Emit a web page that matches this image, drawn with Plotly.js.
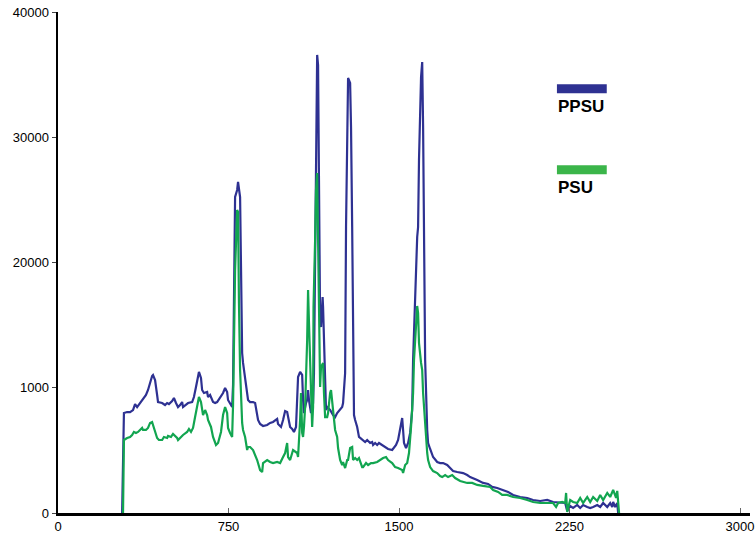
<!DOCTYPE html>
<html>
<head>
<meta charset="utf-8">
<script src="https://cdn.plot.ly/plotly-3.0.1.min.js"></script>
<style>html,body{margin:0;padding:0;background:#fff;}#chart{width:756px;height:535px;}</style>
</head>
<body>
<div id="chart"></div>
<script>
// PPSU series
const ppsuX = [282,290,304,317,330,339,348,361,374,387,396,405,414,418,427,436,440,458,471,480,488,502,510,519,528,537,546,550,563,572,590,598,607,616,620,629,634,642,656,660,669,682,691,700,713,726,735,744,748,761,766,770,779,788,792,801,805,810,814,823,832,836,845,858,867,876,880,889,902,920,933,946,964,968,981,990,999,1008,1012,1021,1030,1038,1047,1056,1065,1074,1078,1082,1091,1096,1100,1104,1113,1122,1126,1131,1135,1140,1144,1148,1153,1157,1164,1166,1175,1179,1184,1197,1210,1219,1228,1232,1241,1250,1254,1258,1263,1267,1272,1276,1285,1289,1294,1298,1302,1307,1316,1324,1338,1351,1360,1373,1382,1386,1395,1404,1412,1426,1439,1452,1470,1478,1487,1496,1505,1514,1518,1522,1531,1540,1549,1558,1562,1571,1580,1584,1588,1597,1602,1606,1610,1615,1624,1628,1637,1650,1668,1681,1694,1712,1725,1738,1756,1782,1800,1813,1844,1870,1892,1910,1932,1958,1980,2002,2033,2064,2090,2121,2152,2178,2209,2231,2240,2253,2266,2284,2297,2310,2328,2341,2354,2372,2385,2398,2416,2429,2438,2442,2451,2460,2464];
const ppsuY = [0,7980,8060,8060,8220,8700,8460,8780,9020,9420,9820,10460,10940,11020,10620,9420,8860,8780,8620,8780,8700,8940,9180,8780,8460,8620,8860,8460,8620,8780,8860,9260,10060,10860,11260,10780,9820,9580,9660,9260,9420,8860,8780,8860,9180,9580,9980,9660,9020,8620,8460,10220,25230,25790,26430,25230,19400,12770,11980,10860,9820,9020,8860,8860,8780,7980,7430,7110,6950,7030,7190,7270,7510,7110,6870,7430,8140,8060,7660,6870,6710,6470,6870,10860,11260,11020,9020,7980,8780,9020,9820,9020,7980,8780,11180,19160,27150,36570,35770,27150,15170,14850,17250,16450,11180,8220,8460,8220,7820,7660,7980,8060,8220,8460,8780,9820,11180,22830,30820,34730,34330,30820,22830,10620,7820,7430,6870,6070,5830,5670,5830,5590,5670,5430,5590,5430,5590,5430,5270,5110,5030,5190,5430,5830,6630,7580,6630,5590,5190,5590,6390,8220,12220,17560,22040,22830,28180,34810,36010,30820,20200,12220,6630,5590,5110,4470,4070,3990,3990,3830,3590,3350,3270,3190,3030,2870,2630,2400,2320,2080,2000,1840,1680,1440,1280,1200,1040,960,1040,880,800,800,160,560,400,640,400,640,480,400,480,640,480,800,480,800,480,880,480,800,0];

// PSU series
const psuX = [286,290,304,317,326,334,343,352,370,374,387,396,405,414,418,427,436,444,458,466,480,484,497,506,515,524,528,541,550,568,576,585,594,603,612,620,629,638,647,656,660,673,682,695,704,717,726,735,744,748,757,766,770,779,788,792,796,801,810,814,823,832,836,845,858,876,889,898,902,920,933,946,964,977,990,999,1008,1012,1021,1034,1052,1056,1065,1069,1074,1078,1082,1087,1096,1100,1104,1113,1118,1122,1124,1131,1135,1140,1144,1148,1153,1157,1166,1170,1175,1184,1188,1197,1201,1210,1219,1228,1232,1241,1250,1254,1263,1272,1276,1285,1294,1298,1307,1316,1324,1338,1342,1355,1364,1377,1386,1404,1417,1430,1443,1452,1470,1483,1496,1514,1518,1527,1536,1544,1553,1562,1566,1575,1580,1584,1588,1597,1602,1606,1615,1624,1628,1637,1650,1668,1681,1690,1703,1716,1734,1747,1769,1800,1822,1844,1870,1901,1914,1936,1954,1976,2002,2033,2064,2090,2121,2152,2178,2191,2200,2218,2231,2235,2240,2244,2253,2266,2284,2297,2310,2328,2341,2354,2372,2385,2398,2416,2429,2442,2455,2460,2468];
const psuY = [0,5830,5990,6070,6230,6470,6390,6470,6790,6630,6630,6790,7190,7270,7030,6470,5990,5830,5830,6070,5990,6150,6070,6310,6150,5990,5830,6070,6230,6470,6710,6470,6790,7660,8460,9260,8860,7820,8220,7820,7430,6870,6070,5430,5590,6470,7820,8460,7980,6790,6390,6070,8620,19400,24190,24030,16770,11420,7190,6630,6070,5030,5270,5270,5030,4230,3430,3270,3990,4230,4070,3990,4070,3990,4470,4790,5590,4470,4230,5030,4790,4470,7430,9580,6390,6070,6870,8460,13810,17800,15170,9820,6870,8460,16450,21800,25790,27150,21800,13810,10060,11660,11980,9580,7660,7660,7980,9580,9820,8220,6630,6070,5190,4230,3830,4070,3590,4230,4230,5190,5270,4230,4390,4230,4390,3670,3670,3990,3830,3990,3990,4070,4230,4390,4470,4230,3990,3670,3590,3430,3190,3830,3990,4790,6870,9580,12220,14850,16530,15970,13570,11980,11420,9580,6870,4790,4230,3670,3350,3190,2950,2870,3030,2870,3030,2790,2550,2400,2400,2240,2160,2080,1840,1680,1440,1440,1280,1200,1040,880,800,800,800,480,800,880,800,1600,80,400,1040,880,800,1200,800,1280,880,1280,960,1440,1040,1600,1280,1840,1200,1760,0];

// Axis ticks
const xTickVals = [0, 750, 1500, 2250, 3000];
const xTickText = ['0', '750', '1500', '2250', '3000'];
const yTickVals = [0, 10000, 20000, 30000, 40000];
const yTickText = ['0', '1000', '20000', '30000', '40000'];

const seriesNames = ['PPSU', 'PSU'];
const lineColors = ['#2E3192', '#12A550'];
const legendColors = ['#2E3192', '#3BB54A'];

const font = 'Liberation Sans, Arial, Helvetica, sans-serif';

const traces = [
  {x: ppsuX, y: ppsuY, name: seriesNames[0], type: 'scatter', mode: 'lines',
   line: {color: lineColors[0], width: 2.2}},
  {x: psuX, y: psuY, name: seriesNames[1], type: 'scatter', mode: 'lines',
   line: {color: lineColors[1], width: 2.2}}
];

const layout = {
  width: 756, height: 535,
  margin: {l: 58, r: 6, t: 12, b: 22, pad: 0},
  paper_bgcolor: '#fff', plot_bgcolor: '#fff',
  showlegend: false,
  font: {family: font, size: 13, color: '#000'},
  xaxis: {
    range: [0, 3044], tickvals: xTickVals, ticktext: xTickText,
    showgrid: false, zeroline: false, showline: true, linecolor: '#000', linewidth: 2.5,
    ticks: 'inside', ticklen: 5, tickwidth: 1, tickcolor: '#666',
    tickfont: {family: font, size: 13, color: '#000'}
  },
  yaxis: {
    range: [0, 40000], tickvals: yTickVals, ticktext: yTickText,
    showgrid: false, zeroline: false, showline: true, linecolor: '#000', linewidth: 2.5,
    ticks: 'outside', ticklen: 4, tickwidth: 1, tickcolor: '#444',
    tickfont: {family: font, size: 13, color: '#000'}
  },
  shapes: [
    {type: 'rect', xref: 'paper', yref: 'paper', x0: 0.721, x1: 0.793, y0: 0.838, y1: 0.856,
     fillcolor: legendColors[0], line: {width: 0}},
    {type: 'rect', xref: 'paper', yref: 'paper', x0: 0.721, x1: 0.793, y0: 0.676, y1: 0.694,
     fillcolor: legendColors[1], line: {width: 0}}
  ],
  annotations: [
    {xref: 'paper', yref: 'paper', x: 0.720, y: 0.812, xanchor: 'left', yanchor: 'middle',
     text: '<b>' + seriesNames[0] + '</b>', showarrow: false, font: {family: font, size: 17, color: '#000'}},
    {xref: 'paper', yref: 'paper', x: 0.720, y: 0.649, xanchor: 'left', yanchor: 'middle',
     text: '<b>' + seriesNames[1] + '</b>', showarrow: false, font: {family: font, size: 17, color: '#000'}}
  ]
};

Plotly.newPlot('chart', traces, layout, {displayModeBar: false, staticPlot: true});
</script>
</body>
</html>
